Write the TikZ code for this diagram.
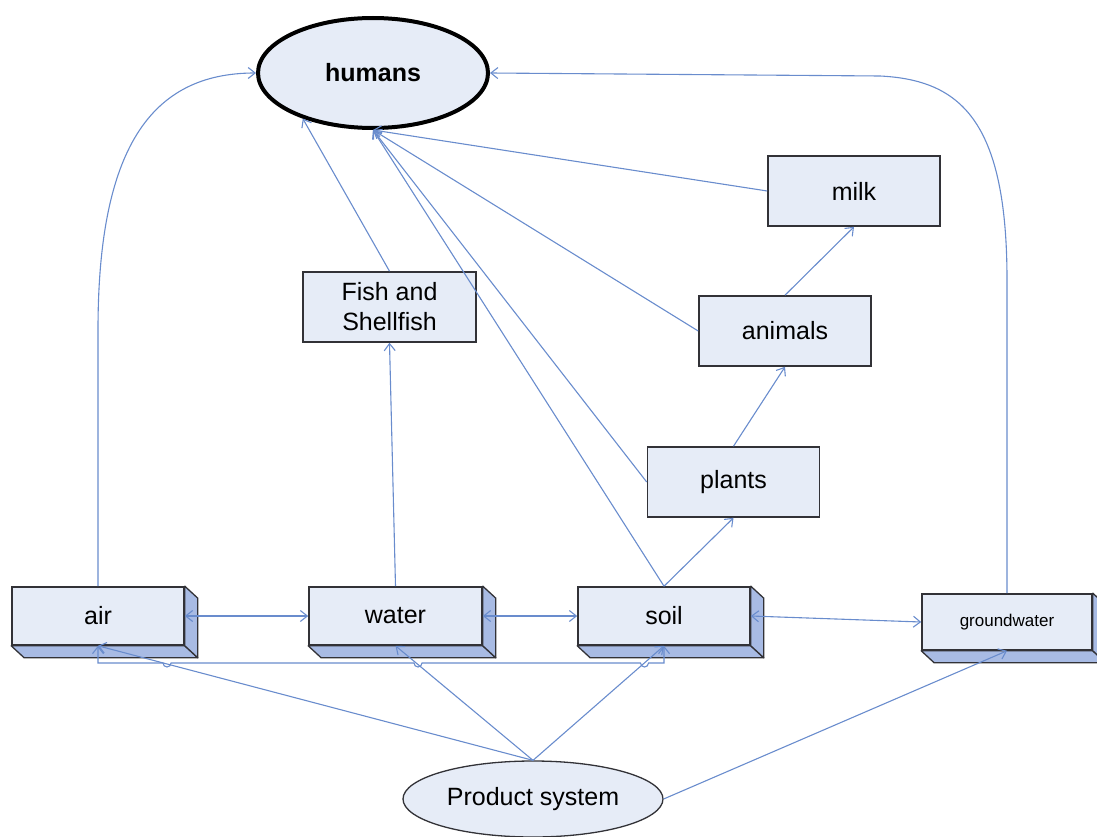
\documentclass[tikz,border=0pt]{standalone}
\usepackage{fontspec}
\setmainfont{Liberation Sans}
\usetikzlibrary{arrows.meta,calc,shapes.geometric}
\definecolor{boxfill}{RGB}{230,236,247}
\definecolor{sidefill}{RGB}{168,187,228}
\definecolor{linkblue}{RGB}{105,140,205}
\definecolor{edgegray}{RGB}{50,50,55}

\begin{document}
\begin{tikzpicture}[x=1pt,y=-1pt,
  font=\fontsize{25}{30}\selectfont,
  box/.style={draw=edgegray,line width=1.6pt,fill=boxfill,rectangle,inner sep=0pt,align=center},
  flat/.style={box,minimum width=172pt,minimum height=70pt},
  slab/.style={box,minimum width=172pt,minimum height=58pt},
  side/.style={draw=edgegray,line width=1.3pt,fill=sidefill,line join=round},
  tip/.tip={Straight Barb[length=7pt,width=11pt]},
  link/.style={draw=linkblue,line width=1.1pt,-tip},
  twoway/.style={draw=linkblue,line width=1.1pt,tip-tip},
]
\useasboundingbox (0,0) rectangle (1097,837);

% target and exposure pathways
\node[ellipse,draw=black,line width=4pt,fill=boxfill,minimum width=230pt,minimum height=110pt,
      font=\fontsize{25}{30}\selectfont\bfseries] (humans) at (373,73) {humans};
\node[flat] (milk)    at (854,191)   {milk};
\node[flat] (animals) at (785,331)   {animals};
\node[flat] (plants)  at (733.5,482) {plants};
\node[flat,minimum width=173pt] (fish) at (389.5,307) {Fish and\\Shellfish};

% environmental compartments (extruded boxes)
\node[slab] (air)   at (98,616)    {air};
\node[slab,minimum width=173pt] (water) at (395.5,616) {water};
\node[slab] (soil)  at (664,616)   {soil};
\node[slab,minimum width=170pt,minimum height=56pt,font=\fontsize{17}{20}\selectfont] (gw) at (1007,622) {groundwater};

\foreach \n in {air,water,soil,gw}{
  \filldraw[side] (\n.south west) -- ++(13,12) -- ($(\n.south east)+(13,12)$) -- (\n.south east) -- cycle;
  \filldraw[side] (\n.north east) -- ++(13,12) -- ($(\n.south east)+(13,12)$) -- (\n.south east) -- cycle;
}

% emission source
\node[ellipse,draw=edgegray,line width=1.3pt,fill=boxfill,minimum width=260pt,minimum height=76pt] (ps) at (533,799) {Product system};

% transfers between compartments
\draw[twoway] (air.east) -- (water.west);
\draw[twoway] (water.east) -- (soil.west);
\draw[twoway] (soil.east) -- (gw.west);
\draw[twoway] (air.south) -- (98,663) -- (163,663) arc[start angle=180,end angle=0,radius=4]
  -- (414,663) arc[start angle=180,end angle=0,radius=4]
  -- (640.5,663) arc[start angle=180,end angle=0,radius=4]
  -- (664,663) -- (soil.south);

% emissions
\draw[link] (ps.north) -- (air.south);
\draw[link] (ps.north) -- (water.south);
\draw[link] (ps.north) -- (soil.south);
\draw[link] (ps.east) -- (gw.south);

% food chain
\draw[link] (water.north) -- (fish.south);
\draw[link] (soil.north) -- (plants.south);
\draw[link] (plants.north) -- (animals.south);
\draw[link] (animals.north) -- (milk.south);

% intake by humans
\draw[link] (fish.north) -- (humans.213);
\draw[link] (soil.north) -- (humans.south);
\draw[link] (plants.west) -- (humans.south);
\draw[link] (animals.west) -- (humans.south);
\draw[link] (milk.west) -- (humans.south);
\draw[link] (air.north) -- (98,330) .. controls (98,150) and (150,73) .. (humans.west);
\draw[link] (gw.north) -- (1007,280) .. controls (1007,120) and (960,80) .. (880,76) -- (humans.east);
\end{tikzpicture}
\end{document}
